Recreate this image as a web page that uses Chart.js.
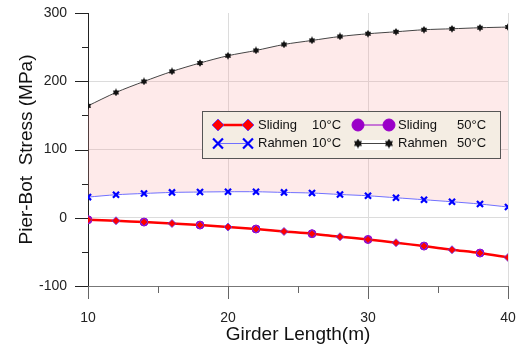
<!DOCTYPE html>
<html><head><meta charset="utf-8">
<script src="https://cdn.jsdelivr.net/npm/chart.js@4"></script>
<style>html,body{margin:0;padding:0;background:#fff}canvas{display:block}</style>
</head><body>
<canvas id="c" width="523" height="347"></canvas>
<script>
const girderLength = [10,12,14,16,18,20,22,24,26,28,30,32,34,36,38,40];
const sliding10 = [-2.9,-4.4,-6.3,-8.4,-10.7,-13.6,-16.5,-20.1,-23.4,-27.8,-31.8,-36.6,-41.5,-46.9,-51.7,-58.2];
const rahmen10 = [30.3,33.7,35.6,37.1,37.7,38.1,38.1,37.1,36.2,34.1,32.2,29.3,26.4,23.4,20.1,15.7];
const rahmen50 = [164,183.6,199.7,214.4,226.7,237.4,245.1,253.9,259.8,265.6,269.6,272.5,275.5,276.9,278.4,279.4];
const girderLength50 = [10,14,18,22,26,30,34,38];
const sliding50 = [-2.9,-6.3,-10.7,-16.5,-23.4,-31.8,-41.5,-51.7];
const xTicks = [10,20,30,40];
const yTicks = [-100,0,100,200,300];

const pts = (xs, ys) => xs.map((x,i)=>({x:x,y:ys[i]}));
const FONT = "'Liberation Sans', Arial, sans-serif";

function starImg(size){
  const c = document.createElement('canvas'); c.width=size; c.height=size;
  const g = c.getContext('2d'); const cx=size/2, cy=size/2, R=size/2-0.3, r=R*0.6;
  g.beginPath();
  for(let i=0;i<12;i++){const a=-Math.PI/2+i*Math.PI/6; const rr=i%2?r:R; g.lineTo(cx+rr*Math.cos(a), cy+rr*Math.sin(a));}
  g.closePath(); g.fillStyle='#111'; g.fill();
  return c;
}
const STAR = starImg(8);
const STAR_LEG = starImg(10);

const legendItems = [
  {ds:0, col:0, row:0, name:'Sliding', temp:'10°C', r:6, style:'rectRot'},
  {ds:1, col:1, row:0, name:'Sliding', temp:'50°C', r:6, style:'circle'},
  {ds:2, col:0, row:1, name:'Rahmen', temp:'10°C', r:7, style:'crossRot'},
  {ds:3, col:1, row:1, name:'Rahmen', temp:'50°C', r:5, style:STAR_LEG}
];

const tickPlugin = {
  id:'ticksAndLegend',
  afterDraw(chart){
    const ctx = chart.ctx, xs = chart.scales.x, ys = chart.scales.y, ca = chart.chartArea;
    ctx.save();
    ctx.strokeStyle='#222'; ctx.lineWidth=1;
    for(let v=-100; v<=300; v+=50){
      const y = Math.round(ys.getPixelForValue(v))+0.5;
      const len = v%100===0?13:6;
      ctx.beginPath(); ctx.moveTo(ca.left-len, y); ctx.lineTo(ca.left, y); ctx.stroke();
    }
    ctx.strokeStyle='#666';
    for(let v=10; v<=40; v+=5){
      const x = Math.round(xs.getPixelForValue(v))+0.5;
      const len = v%10===0?13:7;
      ctx.beginPath(); ctx.moveTo(x, ca.bottom); ctx.lineTo(x, ca.bottom+len); ctx.stroke();
    }
    // legend
    const bx=202, by=111, bw=298, bh=47;
    ctx.fillStyle='#F4EDE3'; ctx.fillRect(bx,by,bw,bh);
    ctx.strokeStyle='#555'; ctx.lineWidth=1; ctx.strokeRect(bx+0.5,by+0.5,bw,bh);
    const rows=[125,143.5];
    const cols=[{s0:218,s1:248,t:258,tt:312},{s0:358,s1:389,t:398,tt:457}];
    ctx.font='13px '+FONT; ctx.textBaseline='middle'; ctx.textAlign='left';
    legendItems.forEach(it=>{
      const d = chart.data.datasets[it.ds]; const c = cols[it.col]; const y = rows[it.row];
      if(it.ds===3){ctx.fillStyle='#fff'; ctx.fillRect(355,140,37,10);}
      ctx.strokeStyle=d.borderColor; ctx.lineWidth=d.borderWidth;
      ctx.beginPath(); ctx.moveTo(c.s0,y); ctx.lineTo(c.s1,y); ctx.stroke();
      [c.s0,c.s1].forEach(px=>{
        ctx.save();
        ctx.fillStyle=d.pointBackgroundColor; ctx.strokeStyle=d.pointBorderColor; ctx.lineWidth=d.pointBorderWidth;
        Chart.helpers.drawPoint(ctx,{pointStyle:it.style,radius:it.r,borderWidth:d.pointBorderWidth,rotation:0},px,y);
        ctx.restore();
      });
      ctx.fillStyle='#111';
      ctx.fillText(it.name, c.t, y);
      ctx.fillText(it.temp, c.tt, y);
    });
    ctx.restore();
  }
};

new Chart(document.getElementById('c'), {
  type:'line',
  data:{
    datasets:[
      {label:'Sliding 10°C', data:pts(girderLength,sliding10), borderColor:'#FF0000', borderWidth:2.5,
       pointStyle:'rectRot', pointRadius:4, pointBackgroundColor:'#FF0000', pointBorderColor:'#5a3cff', pointBorderWidth:0.8, order:1, tension:0.3},
      {label:'Sliding 50°C', data:pts(girderLength50,sliding50), borderColor:'#9A00C8', borderWidth:1,
       pointStyle:'circle', pointRadius:4, pointBackgroundColor:'#9A00C8', pointBorderColor:'#9A00C8', pointBorderWidth:1, order:2, tension:0.3},
      {label:'Rahmen 10°C', data:pts(girderLength,rahmen10), borderColor:'#7070FF', borderWidth:1,
       pointStyle:'crossRot', pointRadius:4.3, pointBackgroundColor:'#0000FF', pointBorderColor:'#0000FF', pointBorderWidth:2.2, order:3, tension:0.3},
      {label:'Rahmen 50°C', data:pts(girderLength,rahmen50), borderColor:'#444', borderWidth:1,
       pointStyle:STAR, pointRadius:4, pointBackgroundColor:'#111', pointBorderColor:'#111', pointBorderWidth:1, order:4, tension:0.3,
       fill:{target:2}, backgroundColor:'rgba(250,160,160,0.22)'}
    ]
  },
  options:{
    responsive:false, animation:false, devicePixelRatio:1,
    layout:{autoPadding:false, padding:{top:13,right:15,left:0,bottom:0}},
    plugins:{legend:{display:false}, tooltip:{enabled:false}, filler:{propagate:false}},
    scales:{
      x:{type:'linear', min:10, max:40,
        afterBuildTicks(s){ s.ticks = [10,15,20,25,30,35,40].map(v=>({value:v})); },
        ticks:{padding:24, color:'#222', font:{family:FONT,size:14}, maxRotation:0,
          callback:(v)=> xTicks.includes(v)? String(v):''},
        grid:{drawTicks:false, color:(c)=> (c.tick && c.tick.value%10===0 && c.tick.value>10)?'#dcdcdc':'rgba(0,0,0,0)'},
        border:{color:'#777', width:1},
        title:{display:true, text:'Girder Length(m)', color:'#111', font:{family:FONT,size:19}, padding:{top:2,bottom:1}},
        afterFit(s){ s.height = 61; s.paddingLeft = 0; s.paddingRight = 0; }
      },
      y:{min:-100, max:300,
        afterBuildTicks(s){ const a=[]; for(let v=-100; v<=300; v+=50) a.push({value:v}); s.ticks=a; },
        ticks:{padding:21, color:'#222', font:{family:FONT,size:14},
          callback:(v)=> yTicks.includes(v)? String(v):''},
        grid:{drawTicks:false, color:(c)=> (c.tick && c.tick.value%100===0 && c.tick.value>-100 && c.tick.value<300)?'#dcdcdc':'rgba(0,0,0,0)'},
        border:{color:'#222', width:1},
        title:{display:true, text:'Pier-Bot  Stress (MPa)', color:'#111', font:{family:FONT,size:19}, padding:{top:15,bottom:0}},
        afterFit(s){ s.width = 88; s.paddingTop = 0; s.paddingBottom = 0; }
      }
    }
  },
  plugins:[tickPlugin]
});
</script>
</body></html>
